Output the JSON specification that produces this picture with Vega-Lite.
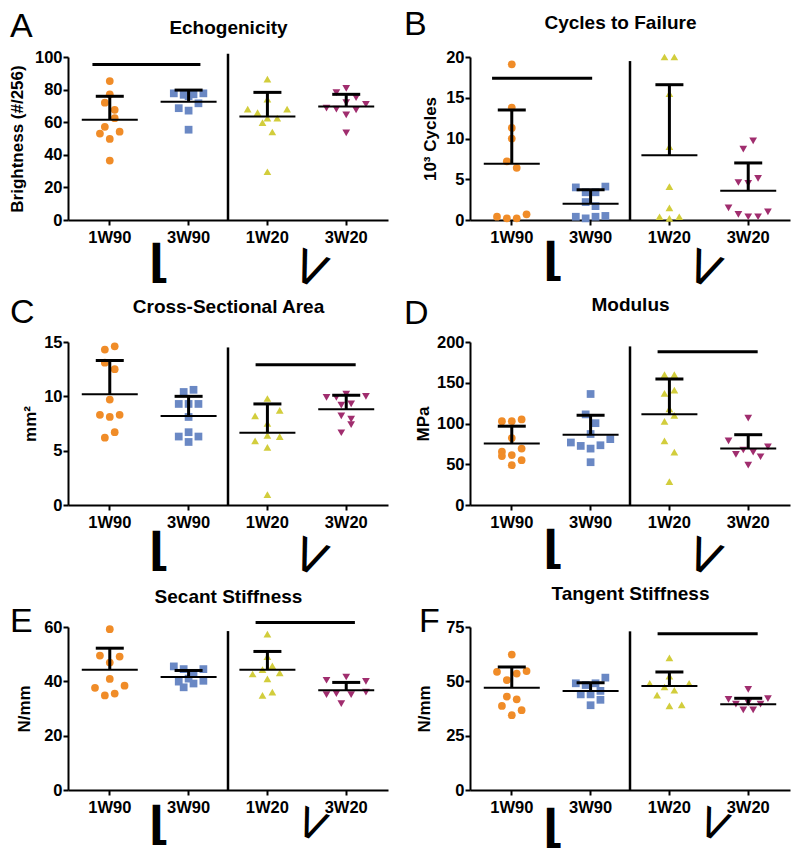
{
"$schema": "https://vega.github.io/schema/vega-lite/v6.json",
"background": "white",
"padding": {"left": 8, "top": 8, "right": 5, "bottom": 5},
"bounds": "flush",
"columns": 2,
"spacing": {"row": 122, "column": 82},
"datasets": {
"pts": [
{"p":"A","grp":"1W90","slot":0,"v":85.2},{"p":"A","grp":"1W90","slot":0,"v":77.1},{"p":"A","grp":"1W90","slot":-1,"v":72.0},{"p":"A","grp":"1W90","slot":1,"v":67.6},{"p":"A","grp":"1W90","slot":1,"v":62.5},{"p":"A","grp":"1W90","slot":-1,"v":57.2},{"p":"A","grp":"1W90","slot":-2,"v":53.0},{"p":"A","grp":"1W90","slot":2,"v":54.2},{"p":"A","grp":"1W90","slot":0,"v":49.7},{"p":"A","grp":"1W90","slot":0,"v":36.5},
{"p":"A","grp":"3W90","slot":-3,"v":77.7},{"p":"A","grp":"3W90","slot":-1,"v":76.8},{"p":"A","grp":"3W90","slot":1,"v":77.1},{"p":"A","grp":"3W90","slot":3,"v":77.7},{"p":"A","grp":"3W90","slot":2,"v":71.6},{"p":"A","grp":"3W90","slot":-2,"v":68.6},{"p":"A","grp":"3W90","slot":0,"v":67.1},{"p":"A","grp":"3W90","slot":0,"v":55.4},{"p":"A","grp":"3W90","slot":0,"v":76.0},
{"p":"A","grp":"1W20","slot":0,"v":86.4},{"p":"A","grp":"1W20","slot":0,"v":74.1},{"p":"A","grp":"1W20","slot":-4,"v":68.0},{"p":"A","grp":"1W20","slot":4,"v":68.0},{"p":"A","grp":"1W20","slot":-2,"v":65.9},{"p":"A","grp":"1W20","slot":0,"v":62.5},{"p":"A","grp":"1W20","slot":2,"v":62.5},{"p":"A","grp":"1W20","slot":-1,"v":59.8},{"p":"A","grp":"1W20","slot":1,"v":54.0},{"p":"A","grp":"1W20","slot":0,"v":29.6},
{"p":"A","grp":"3W20","slot":-2,"v":78.1},{"p":"A","grp":"3W20","slot":0,"v":80.7},{"p":"A","grp":"3W20","slot":2,"v":75.1},{"p":"A","grp":"3W20","slot":0,"v":72.0},{"p":"A","grp":"3W20","slot":4,"v":71.0},{"p":"A","grp":"3W20","slot":-4,"v":68.6},{"p":"A","grp":"3W20","slot":-2,"v":68.0},{"p":"A","grp":"3W20","slot":2,"v":67.6},{"p":"A","grp":"3W20","slot":0,"v":64.5},{"p":"A","grp":"3W20","slot":0,"v":53.4},
{"p":"B","grp":"1W90","slot":0,"v":19.1},{"p":"B","grp":"1W90","slot":0,"v":13.8},{"p":"B","grp":"1W90","slot":0,"v":11.3},{"p":"B","grp":"1W90","slot":0,"v":10.0},{"p":"B","grp":"1W90","slot":-1,"v":7.2},{"p":"B","grp":"1W90","slot":1,"v":6.4},{"p":"B","grp":"1W90","slot":-3,"v":0.4},{"p":"B","grp":"1W90","slot":-1,"v":0.2},{"p":"B","grp":"1W90","slot":1,"v":0.2},{"p":"B","grp":"1W90","slot":3,"v":0.7},
{"p":"B","grp":"3W90","slot":-3,"v":4.0},{"p":"B","grp":"3W90","slot":3,"v":4.1},{"p":"B","grp":"3W90","slot":-1,"v":3.4},{"p":"B","grp":"3W90","slot":1,"v":3.4},{"p":"B","grp":"3W90","slot":-1,"v":2.2},{"p":"B","grp":"3W90","slot":1,"v":1.7},{"p":"B","grp":"3W90","slot":-3,"v":0.4},{"p":"B","grp":"3W90","slot":-1,"v":0.2},{"p":"B","grp":"3W90","slot":1,"v":0.4},{"p":"B","grp":"3W90","slot":3,"v":0.5},
{"p":"B","grp":"1W20","slot":-1,"v":20.0},{"p":"B","grp":"1W20","slot":1,"v":20.0},{"p":"B","grp":"1W20","slot":0,"v":15.5},{"p":"B","grp":"1W20","slot":0,"v":9.0},{"p":"B","grp":"1W20","slot":0,"v":4.1},{"p":"B","grp":"1W20","slot":0,"v":1.5},{"p":"B","grp":"1W20","slot":-2,"v":0.4},{"p":"B","grp":"1W20","slot":0,"v":0.2},{"p":"B","grp":"1W20","slot":2,"v":0.4},
{"p":"B","grp":"3W20","slot":1,"v":9.7},{"p":"B","grp":"3W20","slot":-1,"v":8.7},{"p":"B","grp":"3W20","slot":-2,"v":4.6},{"p":"B","grp":"3W20","slot":0,"v":4.5},{"p":"B","grp":"3W20","slot":2,"v":5.1},{"p":"B","grp":"3W20","slot":-4,"v":1.5},{"p":"B","grp":"3W20","slot":-2,"v":0.7},{"p":"B","grp":"3W20","slot":0,"v":0.4},{"p":"B","grp":"3W20","slot":2,"v":0.4},{"p":"B","grp":"3W20","slot":4,"v":1.0},
{"p":"C","grp":"1W90","slot":-1,"v":14.3},{"p":"C","grp":"1W90","slot":1,"v":14.6},{"p":"C","grp":"1W90","slot":-1,"v":13.1},{"p":"C","grp":"1W90","slot":1,"v":12.5},{"p":"C","grp":"1W90","slot":0,"v":9.7},{"p":"C","grp":"1W90","slot":-2,"v":8.3},{"p":"C","grp":"1W90","slot":0,"v":8.1},{"p":"C","grp":"1W90","slot":2,"v":8.3},{"p":"C","grp":"1W90","slot":1,"v":6.7},{"p":"C","grp":"1W90","slot":-1,"v":6.2},
{"p":"C","grp":"3W90","slot":-1,"v":10.4},{"p":"C","grp":"3W90","slot":1,"v":10.6},{"p":"C","grp":"3W90","slot":-2,"v":9.3},{"p":"C","grp":"3W90","slot":0,"v":9.3},{"p":"C","grp":"3W90","slot":2,"v":9.3},{"p":"C","grp":"3W90","slot":0,"v":8.1},{"p":"C","grp":"3W90","slot":-2,"v":6.3},{"p":"C","grp":"3W90","slot":0,"v":6.7},{"p":"C","grp":"3W90","slot":2,"v":6.3},{"p":"C","grp":"3W90","slot":0,"v":5.8},
{"p":"C","grp":"1W20","slot":0,"v":9.8},{"p":"C","grp":"1W20","slot":2.5,"v":8.7},{"p":"C","grp":"1W20","slot":-2.5,"v":8.2},{"p":"C","grp":"1W20","slot":0,"v":7.5},{"p":"C","grp":"1W20","slot":0,"v":6.4},{"p":"C","grp":"1W20","slot":2.5,"v":6.3},{"p":"C","grp":"1W20","slot":-2.5,"v":5.9},{"p":"C","grp":"1W20","slot":0,"v":5.3},{"p":"C","grp":"1W20","slot":0,"v":0.95},
{"p":"C","grp":"3W20","slot":-4,"v":9.9},{"p":"C","grp":"3W20","slot":-2,"v":9.9},{"p":"C","grp":"3W20","slot":0,"v":10.2},{"p":"C","grp":"3W20","slot":4,"v":10.0},{"p":"C","grp":"3W20","slot":-1,"v":9.2},{"p":"C","grp":"3W20","slot":1,"v":9.3},{"p":"C","grp":"3W20","slot":-1,"v":8.2},{"p":"C","grp":"3W20","slot":1,"v":7.9},{"p":"C","grp":"3W20","slot":1,"v":7.4},{"p":"C","grp":"3W20","slot":-1,"v":6.65},
{"p":"D","grp":"1W90","slot":-2,"v":102.9},{"p":"D","grp":"1W90","slot":0,"v":102.9},{"p":"D","grp":"1W90","slot":2,"v":105.0},{"p":"D","grp":"1W90","slot":0,"v":82.1},{"p":"D","grp":"1W90","slot":-2,"v":65.4},{"p":"D","grp":"1W90","slot":2,"v":69.2},{"p":"D","grp":"1W90","slot":-2,"v":60.0},{"p":"D","grp":"1W90","slot":0,"v":61.2},{"p":"D","grp":"1W90","slot":2,"v":55.0},{"p":"D","grp":"1W90","slot":0,"v":48.8},
{"p":"D","grp":"3W90","slot":0,"v":136.2},{"p":"D","grp":"3W90","slot":-1,"v":111.2},{"p":"D","grp":"3W90","slot":1,"v":100.4},{"p":"D","grp":"3W90","slot":0,"v":87.1},{"p":"D","grp":"3W90","slot":-4,"v":76.7},{"p":"D","grp":"3W90","slot":-2,"v":72.5},{"p":"D","grp":"3W90","slot":0,"v":69.2},{"p":"D","grp":"3W90","slot":2,"v":73.3},{"p":"D","grp":"3W90","slot":4,"v":80.8},{"p":"D","grp":"3W90","slot":0,"v":52.5},
{"p":"D","grp":"1W20","slot":-1,"v":160},{"p":"D","grp":"1W20","slot":1,"v":160},{"p":"D","grp":"1W20","slot":-1,"v":137},{"p":"D","grp":"1W20","slot":1,"v":141},{"p":"D","grp":"1W20","slot":0,"v":118},{"p":"D","grp":"1W20","slot":-1,"v":102.5},{"p":"D","grp":"1W20","slot":1,"v":110},{"p":"D","grp":"1W20","slot":-1,"v":78.8},{"p":"D","grp":"1W20","slot":1,"v":65},{"p":"D","grp":"1W20","slot":0,"v":28.8},
{"p":"D","grp":"3W20","slot":0,"v":106.7},{"p":"D","grp":"3W20","slot":-4,"v":78.8},{"p":"D","grp":"3W20","slot":4,"v":71.3},{"p":"D","grp":"3W20","slot":-1,"v":67.5},{"p":"D","grp":"3W20","slot":1,"v":65.0},{"p":"D","grp":"3W20","slot":-2.5,"v":62.0},{"p":"D","grp":"3W20","slot":2.5,"v":59.2},{"p":"D","grp":"3W20","slot":0,"v":48.8},
{"p":"E","grp":"1W90","slot":0,"v":59.2},{"p":"E","grp":"1W90","slot":-2,"v":49.5},{"p":"E","grp":"1W90","slot":2,"v":49.1},{"p":"E","grp":"1W90","slot":0,"v":46.9},{"p":"E","grp":"1W90","slot":0,"v":40.9},{"p":"E","grp":"1W90","slot":-3,"v":37.6},{"p":"E","grp":"1W90","slot":3,"v":38.4},{"p":"E","grp":"1W90","slot":1,"v":35.5},{"p":"E","grp":"1W90","slot":-1,"v":34.8},
{"p":"E","grp":"3W90","slot":-3,"v":45.5},{"p":"E","grp":"3W90","slot":-1,"v":44.5},{"p":"E","grp":"3W90","slot":3,"v":44.5},{"p":"E","grp":"3W90","slot":1,"v":43.1},{"p":"E","grp":"3W90","slot":0,"v":41.0},{"p":"E","grp":"3W90","slot":-2,"v":39.9},{"p":"E","grp":"3W90","slot":1,"v":39.2},{"p":"E","grp":"3W90","slot":3,"v":40.2},{"p":"E","grp":"3W90","slot":-1,"v":37.8},
{"p":"E","grp":"1W20","slot":0,"v":57.4},{"p":"E","grp":"1W20","slot":0,"v":49.1},{"p":"E","grp":"1W20","slot":1,"v":45.7},{"p":"E","grp":"1W20","slot":-1,"v":44.3},{"p":"E","grp":"1W20","slot":-3,"v":42.7},{"p":"E","grp":"1W20","slot":2.5,"v":43.1},{"p":"E","grp":"1W20","slot":0,"v":40.9},{"p":"E","grp":"1W20","slot":1,"v":36.0},{"p":"E","grp":"1W20","slot":-1,"v":34.8},
{"p":"E","grp":"3W20","slot":0,"v":41.6},{"p":"E","grp":"3W20","slot":-4,"v":40.4},{"p":"E","grp":"3W20","slot":4,"v":40.0},{"p":"E","grp":"3W20","slot":-4,"v":35.1},{"p":"E","grp":"3W20","slot":-2,"v":35.5},{"p":"E","grp":"3W20","slot":1,"v":35.1},{"p":"E","grp":"3W20","slot":4,"v":36.0},{"p":"E","grp":"3W20","slot":-1,"v":31.8},
{"p":"F","grp":"1W90","slot":0,"v":62.3},{"p":"F","grp":"1W90","slot":-3,"v":54.4},{"p":"F","grp":"1W90","slot":1,"v":53.6},{"p":"F","grp":"1W90","slot":3,"v":54.7},{"p":"F","grp":"1W90","slot":-1,"v":50.6},{"p":"F","grp":"1W90","slot":-1,"v":43.0},{"p":"F","grp":"1W90","slot":1,"v":41.7},{"p":"F","grp":"1W90","slot":-2,"v":38.7},{"p":"F","grp":"1W90","slot":2,"v":36.7},{"p":"F","grp":"1W90","slot":0,"v":34.4},
{"p":"F","grp":"3W90","slot":3,"v":51.7},{"p":"F","grp":"3W90","slot":-3,"v":49.1},{"p":"F","grp":"3W90","slot":-1,"v":48.3},{"p":"F","grp":"3W90","slot":1,"v":49.1},{"p":"F","grp":"3W90","slot":2,"v":45.6},{"p":"F","grp":"3W90","slot":-2,"v":44.0},{"p":"F","grp":"3W90","slot":0,"v":44.0},{"p":"F","grp":"3W90","slot":2,"v":41.5},{"p":"F","grp":"3W90","slot":0,"v":39.0},
{"p":"F","grp":"1W20","slot":0,"v":60.8},{"p":"F","grp":"1W20","slot":0,"v":52.4},{"p":"F","grp":"1W20","slot":-4,"v":49.1},{"p":"F","grp":"1W20","slot":4,"v":49.1},{"p":"F","grp":"1W20","slot":-1,"v":47.4},{"p":"F","grp":"1W20","slot":1,"v":45.9},{"p":"F","grp":"1W20","slot":-2.5,"v":43.7},{"p":"F","grp":"1W20","slot":0,"v":38.7},{"p":"F","grp":"1W20","slot":2.5,"v":39.2},
{"p":"F","grp":"3W20","slot":0,"v":46.3},{"p":"F","grp":"3W20","slot":-4,"v":41.7},{"p":"F","grp":"3W20","slot":4,"v":42.0},{"p":"F","grp":"3W20","slot":-2.5,"v":39.5},{"p":"F","grp":"3W20","slot":2.5,"v":39.5},{"p":"F","grp":"3W20","slot":-1,"v":36.9},{"p":"F","grp":"3W20","slot":1,"v":36.9},{"p":"F","grp":"3W20","slot":0,"v":40.2}
],
"stats": [
{"p":"A","grp":"1W90","g":1,"mean":61.5,"upper":75.9},{"p":"A","grp":"3W90","g":2,"mean":72.6,"upper":79.7},{"p":"A","grp":"1W20","g":3,"mean":63.5,"upper":78.3},{"p":"A","grp":"3W20","g":4,"mean":69.6,"upper":77.1},
{"p":"B","grp":"1W90","g":1,"mean":6.9,"upper":13.5},{"p":"B","grp":"3W90","g":2,"mean":2.0,"upper":3.7},{"p":"B","grp":"1W20","g":3,"mean":7.95,"upper":16.6},{"p":"B","grp":"3W20","g":4,"mean":3.6,"upper":7.0},
{"p":"C","grp":"1W90","g":1,"mean":10.2,"upper":13.3},{"p":"C","grp":"3W90","g":2,"mean":8.2,"upper":10.0},{"p":"C","grp":"1W20","g":3,"mean":6.65,"upper":9.3},{"p":"C","grp":"3W20","g":4,"mean":8.8,"upper":10.1},
{"p":"D","grp":"1W90","g":1,"mean":75.4,"upper":96.7},{"p":"D","grp":"3W90","g":2,"mean":86.25,"upper":110},{"p":"D","grp":"1W20","g":3,"mean":111.25,"upper":154.6},{"p":"D","grp":"3W20","g":4,"mean":69.2,"upper":86.25},
{"p":"E","grp":"1W90","g":1,"mean":44.3,"upper":52.2},{"p":"E","grp":"3W90","g":2,"mean":41.6,"upper":44.0},{"p":"E","grp":"1W20","g":3,"mean":44.3,"upper":51.0},{"p":"E","grp":"3W20","g":4,"mean":36.7,"upper":39.6},
{"p":"F","grp":"1W90","g":1,"mean":47.1,"upper":56.6},{"p":"F","grp":"3W90","g":2,"mean":45.6,"upper":49.4},{"p":"F","grp":"1W20","g":3,"mean":47.9,"upper":54.3},{"p":"F","grp":"3W20","g":4,"mean":39.5,"upper":42.2}
]
},
"concat": [
{
"title": {"text": "A", "anchor": "start", "frame": "group", "dx": -58, "offset": -26},
"width": 320, "height": 163,
"resolve": {"scale": {"x": "independent"}, "axis": {"y": "independent"}},
"layer": [
{"data": {"name": "pts"}, "transform": [{"filter": "datum.p === 'A'"}],
"mark": {"type": "point", "filled": true, "opacity": 1, "size": 60},
"encoding": {
"x": {"field": "grp", "type": "nominal", "scale": {"domain": ["1W90","3W90","1W20","3W20"], "paddingInner": 0, "paddingOuter": 0.03}, "axis": {"title": null, "labelAngle": 0, "labelPadding": 4}},
"xOffset": {"field": "slot", "type": "quantitative", "scale": {"domain": [-8, 8]}},
"y": {"field": "v", "type": "quantitative", "scale": {"domain": [0, 100], "nice": false}, "axis": {"title": "Brightness (#/256)", "values": [0,20,40,60,80,100], "titlePadding": 8}},
"color": {"field": "grp", "type": "nominal", "scale": {"domain": ["1W90","3W90","1W20","3W20"], "range": ["#F08C28","#6A88C4","#D2CD3C","#A02D6E"]}, "legend": null},
"shape": {"field": "grp", "type": "nominal", "scale": {"domain": ["1W90","3W90","1W20","3W20"], "range": ["circle","square","triangle-up","triangle-down"]}, "legend": null}}},
{"data": {"name": "stats"}, "transform": [{"filter": "datum.p === 'A'"}],
"mark": {"type": "tick", "orient": "horizontal", "size": 56, "thickness": 2, "color": "black", "opacity": 1},
"encoding": {
"x": {"field": "g", "type": "quantitative", "scale": {"domain": [0.47, 4.53], "nice": false, "zero": false}, "axis": {"orient": "top", "title": "Echogenicity", "labels": false, "ticks": false, "domain": false, "titlePadding": 24, "titleBaseline": "alphabetic", "titleFontSize": 19}},
"y": {"field": "mean", "type": "quantitative", "scale": {"domain": [0, 100], "nice": false}, "axis": null}}},
{"data": {"name": "stats"}, "transform": [{"filter": "datum.p === 'A'"}],
"mark": {"type": "rule", "strokeWidth": 3, "color": "black"},
"encoding": {
"x": {"field": "g", "type": "quantitative", "scale": {"domain": [0.47, 4.53], "nice": false, "zero": false}, "axis": {"orient": "bottom", "values": [1.62], "labelExpr": "'⌊'", "labelFont": "DejaVu Sans", "labelFontSize": 45, "labelPadding": 20, "ticks": false, "domain": false, "title": null}},
"y": {"field": "mean", "type": "quantitative", "scale": {"domain": [0, 100], "nice": false}, "axis": null},
"y2": {"field": "upper"}}},
{"data": {"name": "stats"}, "transform": [{"filter": "datum.p === 'A'"}],
"mark": {"type": "tick", "orient": "horizontal", "size": 28, "thickness": 3, "color": "black", "opacity": 1},
"encoding": {
"x": {"field": "g", "type": "quantitative", "scale": {"domain": [0.47, 4.53], "nice": false, "zero": false}, "axis": {"orient": "bottom", "values": [3.53], "labelExpr": "'V'", "labelFont": "DejaVu Sans", "labelFontWeight": "normal", "labelFontSize": 45, "labelAngle": 22, "labelAlign": "center", "labelBaseline": "middle", "labelPadding": 50, "ticks": false, "domain": false, "title": null}},
"y": {"field": "upper", "type": "quantitative", "scale": {"domain": [0, 100], "nice": false}, "axis": null}}},
{"data": {"values": [{}]},
"mark": {"type": "rule", "strokeWidth": 2.5, "color": "black"},
"encoding": {
"x": {"datum": 2.5, "type": "quantitative", "scale": {"domain": [0.47, 4.53], "nice": false, "zero": false}, "axis": null},
"y": {"datum": 0, "type": "quantitative", "scale": {"domain": [0, 100], "nice": false}, "axis": null},
"y2": {"datum": 102}}},
{"data": {"values": [{}]},
"mark": {"type": "rule", "strokeWidth": 3, "color": "black"},
"encoding": {
"x": {"datum": 0.78, "type": "quantitative", "scale": {"domain": [0.47, 4.53], "nice": false, "zero": false}, "axis": null},
"x2": {"datum": 2.15},
"y": {"datum": 95.4, "type": "quantitative", "scale": {"domain": [0, 100], "nice": false}, "axis": null}}}
]
},
{
"title": {"text": "B", "anchor": "start", "frame": "group", "dx": -66, "offset": -29},
"width": 320, "height": 163,
"resolve": {"scale": {"x": "independent"}, "axis": {"y": "independent"}},
"layer": [
{"data": {"name": "pts"}, "transform": [{"filter": "datum.p === 'B'"}],
"mark": {"type": "point", "filled": true, "opacity": 1, "size": 60},
"encoding": {
"x": {"field": "grp", "type": "nominal", "scale": {"domain": ["1W90","3W90","1W20","3W20"], "paddingInner": 0, "paddingOuter": 0.03}, "axis": {"title": null, "labelAngle": 0, "labelPadding": 4}},
"xOffset": {"field": "slot", "type": "quantitative", "scale": {"domain": [-8, 8]}},
"y": {"field": "v", "type": "quantitative", "scale": {"domain": [0, 20], "nice": false}, "axis": {"title": "10³ Cycles", "values": [0,5,10,15,20], "titlePadding": 6}},
"color": {"field": "grp", "type": "nominal", "scale": {"domain": ["1W90","3W90","1W20","3W20"], "range": ["#F08C28","#6A88C4","#D2CD3C","#A02D6E"]}, "legend": null},
"shape": {"field": "grp", "type": "nominal", "scale": {"domain": ["1W90","3W90","1W20","3W20"], "range": ["circle","square","triangle-up","triangle-down"]}, "legend": null}}},
{"data": {"name": "stats"}, "transform": [{"filter": "datum.p === 'B'"}],
"mark": {"type": "tick", "orient": "horizontal", "size": 56, "thickness": 2, "color": "black", "opacity": 1},
"encoding": {
"x": {"field": "g", "type": "quantitative", "scale": {"domain": [0.47, 4.53], "nice": false, "zero": false}, "axis": {"orient": "top", "title": "Cycles to Failure", "titleX": 150, "labels": false, "ticks": false, "domain": false, "titlePadding": 29, "titleBaseline": "alphabetic", "titleFontSize": 19}},
"y": {"field": "mean", "type": "quantitative", "scale": {"domain": [0, 20], "nice": false}, "axis": null}}},
{"data": {"name": "stats"}, "transform": [{"filter": "datum.p === 'B'"}],
"mark": {"type": "rule", "strokeWidth": 3, "color": "black"},
"encoding": {
"x": {"field": "g", "type": "quantitative", "scale": {"domain": [0.47, 4.53], "nice": false, "zero": false}, "axis": {"orient": "bottom", "values": [1.52], "labelExpr": "'⌊'", "labelFont": "DejaVu Sans", "labelFontSize": 45, "labelPadding": 18, "ticks": false, "domain": false, "title": null}},
"y": {"field": "mean", "type": "quantitative", "scale": {"domain": [0, 20], "nice": false}, "axis": null},
"y2": {"field": "upper"}}},
{"data": {"name": "stats"}, "transform": [{"filter": "datum.p === 'B'"}],
"mark": {"type": "tick", "orient": "horizontal", "size": 28, "thickness": 3, "color": "black", "opacity": 1},
"encoding": {
"x": {"field": "g", "type": "quantitative", "scale": {"domain": [0.47, 4.53], "nice": false, "zero": false}, "axis": {"orient": "bottom", "values": [3.43], "labelExpr": "'V'", "labelFont": "DejaVu Sans", "labelFontWeight": "normal", "labelFontSize": 45, "labelAngle": 22, "labelAlign": "center", "labelBaseline": "middle", "labelPadding": 50, "ticks": false, "domain": false, "title": null}},
"y": {"field": "upper", "type": "quantitative", "scale": {"domain": [0, 20], "nice": false}, "axis": null}}},
{"data": {"values": [{}]},
"mark": {"type": "rule", "strokeWidth": 2.5, "color": "black"},
"encoding": {
"x": {"datum": 2.5, "type": "quantitative", "scale": {"domain": [0.47, 4.53], "nice": false, "zero": false}, "axis": null},
"y": {"datum": 0, "type": "quantitative", "scale": {"domain": [0, 20], "nice": false}, "axis": null},
"y2": {"datum": 19.5}}},
{"data": {"values": [{}]},
"mark": {"type": "rule", "strokeWidth": 3, "color": "black"},
"encoding": {
"x": {"datum": 0.75, "type": "quantitative", "scale": {"domain": [0.47, 4.53], "nice": false, "zero": false}, "axis": null},
"x2": {"datum": 2.02},
"y": {"datum": 17.4, "type": "quantitative", "scale": {"domain": [0, 20], "nice": false}, "axis": null}}}
]
},
{
"title": {"text": "C", "anchor": "start", "frame": "group", "dx": -58, "offset": -33},
"width": 320, "height": 163,
"resolve": {"scale": {"x": "independent"}, "axis": {"y": "independent"}},
"layer": [
{"data": {"name": "pts"}, "transform": [{"filter": "datum.p === 'C'"}],
"mark": {"type": "point", "filled": true, "opacity": 1, "size": 60},
"encoding": {
"x": {"field": "grp", "type": "nominal", "scale": {"domain": ["1W90","3W90","1W20","3W20"], "paddingInner": 0, "paddingOuter": 0.03}, "axis": {"title": null, "labelAngle": 0, "labelPadding": 4}},
"xOffset": {"field": "slot", "type": "quantitative", "scale": {"domain": [-8, 8]}},
"y": {"field": "v", "type": "quantitative", "scale": {"domain": [0, 15], "nice": false}, "axis": {"title": "mm²", "values": [0,5,10,15], "titlePadding": 4}},
"color": {"field": "grp", "type": "nominal", "scale": {"domain": ["1W90","3W90","1W20","3W20"], "range": ["#F08C28","#6A88C4","#D2CD3C","#A02D6E"]}, "legend": null},
"shape": {"field": "grp", "type": "nominal", "scale": {"domain": ["1W90","3W90","1W20","3W20"], "range": ["circle","square","triangle-up","triangle-down"]}, "legend": null}}},
{"data": {"name": "stats"}, "transform": [{"filter": "datum.p === 'C'"}],
"mark": {"type": "tick", "orient": "horizontal", "size": 56, "thickness": 2, "color": "black", "opacity": 1},
"encoding": {
"x": {"field": "g", "type": "quantitative", "scale": {"domain": [0.47, 4.53], "nice": false, "zero": false}, "axis": {"orient": "top", "title": "Cross-Sectional Area", "labels": false, "ticks": false, "domain": false, "titlePadding": 30, "titleBaseline": "alphabetic", "titleFontSize": 19}},
"y": {"field": "mean", "type": "quantitative", "scale": {"domain": [0, 15], "nice": false}, "axis": null}}},
{"data": {"name": "stats"}, "transform": [{"filter": "datum.p === 'C'"}],
"mark": {"type": "rule", "strokeWidth": 3, "color": "black"},
"encoding": {
"x": {"field": "g", "type": "quantitative", "scale": {"domain": [0.47, 4.53], "nice": false, "zero": false}, "axis": {"orient": "bottom", "values": [1.62], "labelExpr": "'⌊'", "labelFont": "DejaVu Sans", "labelFontSize": 45, "labelPadding": 23, "ticks": false, "domain": false, "title": null}},
"y": {"field": "mean", "type": "quantitative", "scale": {"domain": [0, 15], "nice": false}, "axis": null},
"y2": {"field": "upper"}}},
{"data": {"name": "stats"}, "transform": [{"filter": "datum.p === 'C'"}],
"mark": {"type": "tick", "orient": "horizontal", "size": 28, "thickness": 3, "color": "black", "opacity": 1},
"encoding": {
"x": {"field": "g", "type": "quantitative", "scale": {"domain": [0.47, 4.53], "nice": false, "zero": false}, "axis": {"orient": "bottom", "values": [3.53], "labelExpr": "'V'", "labelFont": "DejaVu Sans", "labelFontWeight": "normal", "labelFontSize": 45, "labelAngle": 22, "labelAlign": "center", "labelBaseline": "middle", "labelPadding": 53, "ticks": false, "domain": false, "title": null}},
"y": {"field": "upper", "type": "quantitative", "scale": {"domain": [0, 15], "nice": false}, "axis": null}}},
{"data": {"values": [{}]},
"mark": {"type": "rule", "strokeWidth": 2.5, "color": "black"},
"encoding": {
"x": {"datum": 2.5, "type": "quantitative", "scale": {"domain": [0.47, 4.53], "nice": false, "zero": false}, "axis": null},
"y": {"datum": 0, "type": "quantitative", "scale": {"domain": [0, 15], "nice": false}, "axis": null},
"y2": {"datum": 14.5}}},
{"data": {"values": [{}]},
"mark": {"type": "rule", "strokeWidth": 3, "color": "black"},
"encoding": {
"x": {"datum": 2.85, "type": "quantitative", "scale": {"domain": [0.47, 4.53], "nice": false, "zero": false}, "axis": null},
"x2": {"datum": 4.12},
"y": {"datum": 12.9, "type": "quantitative", "scale": {"domain": [0, 15], "nice": false}, "axis": null}}}
]
},
{
"title": {"text": "D", "anchor": "start", "frame": "group", "dx": -66, "offset": -36},
"width": 320, "height": 163,
"resolve": {"scale": {"x": "independent"}, "axis": {"y": "independent"}},
"layer": [
{"data": {"name": "pts"}, "transform": [{"filter": "datum.p === 'D'"}],
"mark": {"type": "point", "filled": true, "opacity": 1, "size": 60},
"encoding": {
"x": {"field": "grp", "type": "nominal", "scale": {"domain": ["1W90","3W90","1W20","3W20"], "paddingInner": 0, "paddingOuter": 0.03}, "axis": {"title": null, "labelAngle": 0, "labelPadding": 4}},
"xOffset": {"field": "slot", "type": "quantitative", "scale": {"domain": [-8, 8]}},
"y": {"field": "v", "type": "quantitative", "scale": {"domain": [0, 200], "nice": false}, "axis": {"title": "MPa", "values": [0,50,100,150,200], "titlePadding": 4}},
"color": {"field": "grp", "type": "nominal", "scale": {"domain": ["1W90","3W90","1W20","3W20"], "range": ["#F08C28","#6A88C4","#D2CD3C","#A02D6E"]}, "legend": null},
"shape": {"field": "grp", "type": "nominal", "scale": {"domain": ["1W90","3W90","1W20","3W20"], "range": ["circle","square","triangle-up","triangle-down"]}, "legend": null}}},
{"data": {"name": "stats"}, "transform": [{"filter": "datum.p === 'D'"}],
"mark": {"type": "tick", "orient": "horizontal", "size": 56, "thickness": 2, "color": "black", "opacity": 1},
"encoding": {
"x": {"field": "g", "type": "quantitative", "scale": {"domain": [0.47, 4.53], "nice": false, "zero": false}, "axis": {"orient": "top", "title": "Modulus", "labels": false, "ticks": false, "domain": false, "titlePadding": 32, "titleBaseline": "alphabetic", "titleFontSize": 19}},
"y": {"field": "mean", "type": "quantitative", "scale": {"domain": [0, 200], "nice": false}, "axis": null}}},
{"data": {"name": "stats"}, "transform": [{"filter": "datum.p === 'D'"}],
"mark": {"type": "rule", "strokeWidth": 3, "color": "black"},
"encoding": {
"x": {"field": "g", "type": "quantitative", "scale": {"domain": [0.47, 4.53], "nice": false, "zero": false}, "axis": {"orient": "bottom", "values": [1.52], "labelExpr": "'⌊'", "labelFont": "DejaVu Sans", "labelFontSize": 45, "labelPadding": 21, "ticks": false, "domain": false, "title": null}},
"y": {"field": "mean", "type": "quantitative", "scale": {"domain": [0, 200], "nice": false}, "axis": null},
"y2": {"field": "upper"}}},
{"data": {"name": "stats"}, "transform": [{"filter": "datum.p === 'D'"}],
"mark": {"type": "tick", "orient": "horizontal", "size": 28, "thickness": 3, "color": "black", "opacity": 1},
"encoding": {
"x": {"field": "g", "type": "quantitative", "scale": {"domain": [0.47, 4.53], "nice": false, "zero": false}, "axis": {"orient": "bottom", "values": [3.43], "labelExpr": "'V'", "labelFont": "DejaVu Sans", "labelFontWeight": "normal", "labelFontSize": 45, "labelAngle": 22, "labelAlign": "center", "labelBaseline": "middle", "labelPadding": 53, "ticks": false, "domain": false, "title": null}},
"y": {"field": "upper", "type": "quantitative", "scale": {"domain": [0, 200], "nice": false}, "axis": null}}},
{"data": {"values": [{}]},
"mark": {"type": "rule", "strokeWidth": 2.5, "color": "black"},
"encoding": {
"x": {"datum": 2.5, "type": "quantitative", "scale": {"domain": [0.47, 4.53], "nice": false, "zero": false}, "axis": null},
"y": {"datum": 0, "type": "quantitative", "scale": {"domain": [0, 200], "nice": false}, "axis": null},
"y2": {"datum": 194.6}}},
{"data": {"values": [{}]},
"mark": {"type": "rule", "strokeWidth": 3, "color": "black"},
"encoding": {
"x": {"datum": 2.85, "type": "quantitative", "scale": {"domain": [0.47, 4.53], "nice": false, "zero": false}, "axis": null},
"x2": {"datum": 4.12},
"y": {"datum": 188, "type": "quantitative", "scale": {"domain": [0, 200], "nice": false}, "axis": null}}}
]
},
{
"title": {"text": "E", "anchor": "start", "frame": "group", "dx": -58, "offset": -52},
"width": 320, "height": 163,
"resolve": {"scale": {"x": "independent"}, "axis": {"y": "independent"}},
"layer": [
{"data": {"name": "pts"}, "transform": [{"filter": "datum.p === 'E'"}],
"mark": {"type": "point", "filled": true, "opacity": 1, "size": 60},
"encoding": {
"x": {"field": "grp", "type": "nominal", "scale": {"domain": ["1W90","3W90","1W20","3W20"], "paddingInner": 0, "paddingOuter": 0.03}, "axis": {"title": null, "labelAngle": 0, "labelPadding": 4}},
"xOffset": {"field": "slot", "type": "quantitative", "scale": {"domain": [-8, 8]}},
"y": {"field": "v", "type": "quantitative", "scale": {"domain": [0, 60], "nice": false}, "axis": {"title": "N/mm", "values": [0,20,40,60], "titlePadding": 10}},
"color": {"field": "grp", "type": "nominal", "scale": {"domain": ["1W90","3W90","1W20","3W20"], "range": ["#F08C28","#6A88C4","#D2CD3C","#A02D6E"]}, "legend": null},
"shape": {"field": "grp", "type": "nominal", "scale": {"domain": ["1W90","3W90","1W20","3W20"], "range": ["circle","square","triangle-up","triangle-down"]}, "legend": null}}},
{"data": {"name": "stats"}, "transform": [{"filter": "datum.p === 'E'"}],
"mark": {"type": "tick", "orient": "horizontal", "size": 56, "thickness": 2, "color": "black", "opacity": 1},
"encoding": {
"x": {"field": "g", "type": "quantitative", "scale": {"domain": [0.47, 4.53], "nice": false, "zero": false}, "axis": {"orient": "top", "title": "Secant Stiffness", "labels": false, "ticks": false, "domain": false, "titlePadding": 25, "titleBaseline": "alphabetic", "titleFontSize": 19}},
"y": {"field": "mean", "type": "quantitative", "scale": {"domain": [0, 60], "nice": false}, "axis": null}}},
{"data": {"name": "stats"}, "transform": [{"filter": "datum.p === 'E'"}],
"mark": {"type": "rule", "strokeWidth": 3, "color": "black"},
"encoding": {
"x": {"field": "g", "type": "quantitative", "scale": {"domain": [0.47, 4.53], "nice": false, "zero": false}, "axis": {"orient": "bottom", "values": [1.62], "labelExpr": "'⌊'", "labelFont": "DejaVu Sans", "labelFontSize": 45, "labelPadding": 12, "ticks": false, "domain": false, "title": null}},
"y": {"field": "mean", "type": "quantitative", "scale": {"domain": [0, 60], "nice": false}, "axis": null},
"y2": {"field": "upper"}}},
{"data": {"name": "stats"}, "transform": [{"filter": "datum.p === 'E'"}],
"mark": {"type": "tick", "orient": "horizontal", "size": 28, "thickness": 3, "color": "black", "opacity": 1},
"encoding": {
"x": {"field": "g", "type": "quantitative", "scale": {"domain": [0.47, 4.53], "nice": false, "zero": false}, "axis": {"orient": "bottom", "values": [3.55], "labelExpr": "'V'", "labelFont": "DejaVu Sans", "labelFontWeight": "normal", "labelFontSize": 40, "labelAngle": 22, "labelAlign": "center", "labelBaseline": "middle", "labelPadding": 36, "ticks": false, "domain": false, "title": null}},
"y": {"field": "upper", "type": "quantitative", "scale": {"domain": [0, 60], "nice": false}, "axis": null}}},
{"data": {"values": [{}]},
"mark": {"type": "rule", "strokeWidth": 2.5, "color": "black"},
"encoding": {
"x": {"datum": 2.5, "type": "quantitative", "scale": {"domain": [0.47, 4.53], "nice": false, "zero": false}, "axis": null},
"y": {"datum": 0, "type": "quantitative", "scale": {"domain": [0, 60], "nice": false}, "axis": null},
"y2": {"datum": 58.5}}},
{"data": {"values": [{}]},
"mark": {"type": "rule", "strokeWidth": 3, "color": "black"},
"encoding": {
"x": {"datum": 2.85, "type": "quantitative", "scale": {"domain": [0.47, 4.53], "nice": false, "zero": false}, "axis": null},
"x2": {"datum": 4.11},
"y": {"datum": 61.7, "type": "quantitative", "scale": {"domain": [0, 60], "nice": false}, "axis": null}}}
]
},
{
"title": {"text": "F", "anchor": "start", "frame": "group", "dx": -51, "offset": -55},
"width": 320, "height": 163,
"resolve": {"scale": {"x": "independent"}, "axis": {"y": "independent"}},
"layer": [
{"data": {"name": "pts"}, "transform": [{"filter": "datum.p === 'F'"}],
"mark": {"type": "point", "filled": true, "opacity": 1, "size": 60},
"encoding": {
"x": {"field": "grp", "type": "nominal", "scale": {"domain": ["1W90","3W90","1W20","3W20"], "paddingInner": 0, "paddingOuter": 0.03}, "axis": {"title": null, "labelAngle": 0, "labelPadding": 4}},
"xOffset": {"field": "slot", "type": "quantitative", "scale": {"domain": [-8, 8]}},
"y": {"field": "v", "type": "quantitative", "scale": {"domain": [0, 75], "nice": false}, "axis": {"title": "N/mm", "values": [0,25,50,75], "titlePadding": 12}},
"color": {"field": "grp", "type": "nominal", "scale": {"domain": ["1W90","3W90","1W20","3W20"], "range": ["#F08C28","#6A88C4","#D2CD3C","#A02D6E"]}, "legend": null},
"shape": {"field": "grp", "type": "nominal", "scale": {"domain": ["1W90","3W90","1W20","3W20"], "range": ["circle","square","triangle-up","triangle-down"]}, "legend": null}}},
{"data": {"name": "stats"}, "transform": [{"filter": "datum.p === 'F'"}],
"mark": {"type": "tick", "orient": "horizontal", "size": 56, "thickness": 2, "color": "black", "opacity": 1},
"encoding": {
"x": {"field": "g", "type": "quantitative", "scale": {"domain": [0.47, 4.53], "nice": false, "zero": false}, "axis": {"orient": "top", "title": "Tangent Stiffness", "labels": false, "ticks": false, "domain": false, "titlePadding": 28, "titleBaseline": "alphabetic", "titleFontSize": 19}},
"y": {"field": "mean", "type": "quantitative", "scale": {"domain": [0, 75], "nice": false}, "axis": null}}},
{"data": {"name": "stats"}, "transform": [{"filter": "datum.p === 'F'"}],
"mark": {"type": "rule", "strokeWidth": 3, "color": "black"},
"encoding": {
"x": {"field": "g", "type": "quantitative", "scale": {"domain": [0.47, 4.53], "nice": false, "zero": false}, "axis": {"orient": "bottom", "values": [1.52], "labelExpr": "'⌊'", "labelFont": "DejaVu Sans", "labelFontSize": 45, "labelPadding": 15, "ticks": false, "domain": false, "title": null}},
"y": {"field": "mean", "type": "quantitative", "scale": {"domain": [0, 75], "nice": false}, "axis": null},
"y2": {"field": "upper"}}},
{"data": {"name": "stats"}, "transform": [{"filter": "datum.p === 'F'"}],
"mark": {"type": "tick", "orient": "horizontal", "size": 28, "thickness": 3, "color": "black", "opacity": 1},
"encoding": {
"x": {"field": "g", "type": "quantitative", "scale": {"domain": [0.47, 4.53], "nice": false, "zero": false}, "axis": {"orient": "bottom", "values": [3.55], "labelExpr": "'V'", "labelFont": "DejaVu Sans", "labelFontWeight": "normal", "labelFontSize": 40, "labelAngle": 22, "labelAlign": "center", "labelBaseline": "middle", "labelPadding": 36, "ticks": false, "domain": false, "title": null}},
"y": {"field": "upper", "type": "quantitative", "scale": {"domain": [0, 75], "nice": false}, "axis": null}}},
{"data": {"values": [{}]},
"mark": {"type": "rule", "strokeWidth": 2.5, "color": "black"},
"encoding": {
"x": {"datum": 2.5, "type": "quantitative", "scale": {"domain": [0.47, 4.53], "nice": false, "zero": false}, "axis": null},
"y": {"datum": 0, "type": "quantitative", "scale": {"domain": [0, 75], "nice": false}, "axis": null},
"y2": {"datum": 73}}},
{"data": {"values": [{}]},
"mark": {"type": "rule", "strokeWidth": 3, "color": "black"},
"encoding": {
"x": {"datum": 2.85, "type": "quantitative", "scale": {"domain": [0.47, 4.53], "nice": false, "zero": false}, "axis": null},
"x2": {"datum": 4.12},
"y": {"datum": 71.9, "type": "quantitative", "scale": {"domain": [0, 75], "nice": false}, "axis": null}}}
]
}
],
"config": {
"font": "Liberation Sans",
"view": {"stroke": null},
"title": {"fontSize": 34, "fontWeight": "normal", "font": "Liberation Sans", "color": "black"},
"axis": {"domainColor": "black", "domainWidth": 2, "tickColor": "black", "tickWidth": 2, "tickSize": 5, "labelColor": "black", "labelFont": "Liberation Sans", "labelFontSize": 16.5, "labelFontWeight": "bold", "labelPadding": 1, "titleColor": "black", "titleFont": "Liberation Sans", "titleFontSize": 17, "titleFontWeight": "bold", "grid": false}
}
}
